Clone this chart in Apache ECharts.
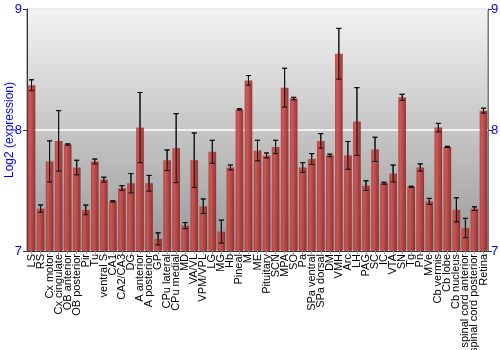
<!DOCTYPE html>
<html><head><meta charset="utf-8">
<script src="https://cdn.jsdelivr.net/npm/echarts@6/dist/echarts.min.js"></script>
<style>html,body{margin:0;padding:0;background:#fff}#c{width:500px;height:350px}</style>
</head><body><div id="c"></div>
<script>
const categories = ["LS","RS","Cx motor","Cx cingulate","OB anterior","OB posterior","Pir","Tu","ventral S","CA1","CA2/CA3","DG","A anterior","A posterior","GP","CPu lateral","CPu medial","MD","VA/VL","VPM/VPL","LG","MG","Hb","Pineal","M","ME","Pituitary","SCN","MPA","SO","Pa","SPa ventral","SPa dorsal","DM","VMH","Arc","LH","PAG","SC","IC","VTA","SN","Tg","Pn","MVe","Cb vermis","Cb lobe","Cb nucleus","spinal cord anterior","spinal cord posterior","Retina"];
const means = [8.37,7.35,7.74,7.91,7.88,7.69,7.34,7.74,7.59,7.41,7.52,7.56,8.02,7.56,7.10,7.75,7.85,7.21,7.75,7.37,7.82,7.16,7.69,8.17,8.41,7.83,7.79,7.86,8.35,8.26,7.69,7.76,7.91,7.79,8.63,7.79,8.07,7.54,7.84,7.56,7.64,8.27,7.53,7.69,7.41,8.02,7.86,7.34,7.19,7.35,8.16];
const errors = [0.045,0.03,0.17,0.25,0.005,0.06,0.04,0.02,0.02,0.005,0.02,0.08,0.29,0.065,0.05,0.085,0.285,0.025,0.225,0.06,0.095,0.095,0.02,0.005,0.04,0.085,0.02,0.055,0.16,0.01,0.04,0.045,0.06,0.01,0.21,0.115,0.28,0.04,0.1,0.008,0.07,0.025,0.005,0.03,0.025,0.035,0.005,0.1,0.08,0.015,0.02];
const yTicks = [7,8,9];

const chart = echarts.init(document.getElementById('c'));
const errData = means.map((m,i)=>[i, m-errors[i], m+errors[i]]);
const blue = '#0000ff';
function errRender(params,api){
  const x=api.value(0);
  const lo=api.coord([x,api.value(1)]);
  const hi=api.coord([x,api.value(2)]);
  const hw=2.5;
  const st={stroke:'#111',lineWidth:1};
  return {type:'group',children:[
    {type:'line',shape:{x1:lo[0],y1:lo[1],x2:hi[0],y2:hi[1]},style:st},
    {type:'line',shape:{x1:lo[0]-hw,y1:lo[1],x2:lo[0]+hw,y2:lo[1]},style:st},
    {type:'line',shape:{x1:hi[0]-hw,y1:hi[1],x2:hi[0]+hw,y2:hi[1]},style:st}
  ]};
}
chart.setOption({
  animation:false,
  grid:{left:27,right:12,top:9,bottom:99,containLabel:false,outerBoundsMode:'none',show:true,borderColor:'#777',borderWidth:1,
    backgroundColor:new echarts.graphic.LinearGradient(0,0,0,1,[{offset:0,color:'#f3f3f3'},{offset:1,color:'#999999'}])},
  xAxis:{type:'category',data:categories,
    axisLine:{lineStyle:{color:'#333'}},
    axisTick:{show:true,alignWithLabel:true,length:3,lineStyle:{color:'#999'}},
    axisLabel:{interval:0,rotate:90,fontSize:11,color:'#000',fontFamily:'Liberation Sans',margin:3}},
  yAxis:[
    {type:'value',min:yTicks[0],max:yTicks[yTicks.length-1],interval:1,
     name:'Log2 (expression)',nameLocation:'middle',nameGap:11,nameMoveOverlap:false,
     nameTextStyle:{color:blue,fontSize:12,fontFamily:'Liberation Sans'},
     axisLine:{show:true,lineStyle:{color:'#333'}},axisTick:{show:true,length:4,lineStyle:{color:'#333'}},
     axisLabel:{color:blue,fontSize:13,fontFamily:'Liberation Sans',margin:5},
     splitLine:{show:true,lineStyle:{color:'#ffffff',width:1.5}}},
    {type:'value',min:yTicks[0],max:yTicks[yTicks.length-1],interval:1,position:'right',
     axisLine:{show:true,lineStyle:{color:'#777'}},axisTick:{show:true,length:4,lineStyle:{color:'#333'}},
     axisLabel:{color:blue,fontSize:13,fontFamily:'Liberation Sans',margin:3},
     splitLine:{show:false}}
  ],
  series:[
    {type:'custom',renderItem:errRender,encode:{x:0,y:[1,2]},data:errData,z:1},
    {type:'bar',data:means,barWidth:'85%',z:2,
     itemStyle:{opacity:0.88,color:new echarts.graphic.LinearGradient(0,0,1,0,[{offset:0,color:'#b23a38'},{offset:0.3,color:'#cc4a48'},{offset:1,color:'#8e2222'}])}},
    {type:'custom',renderItem:errRender,encode:{x:0,y:[1,2]},data:errData,z:3}
  ]
});
</script></body></html>
